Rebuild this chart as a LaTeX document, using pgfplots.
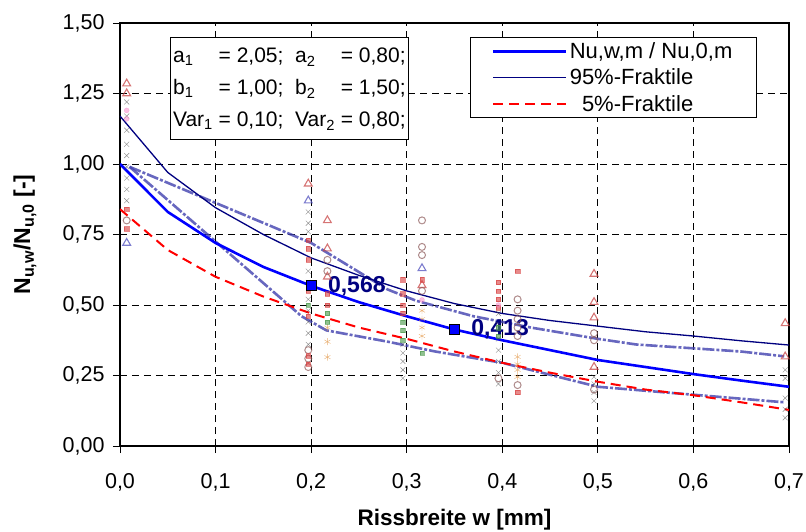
\documentclass[border=0pt]{standalone}
\usepackage{pgfplots}
\pgfplotsset{compat=1.18}
\usepackage{fontspec}
\setmainfont{Liberation Sans}
\definecolor{mblue}{RGB}{0,0,255}
\definecolor{mnavy}{RGB}{0,0,128}
\definecolor{mred}{RGB}{255,0,0}
\definecolor{ddblue}{RGB}{65,65,175}
\definecolor{crossc}{RGB}{60,60,60}
\definecolor{trired}{RGB}{200,70,70}
\definecolor{triblue}{RGB}{80,80,190}
\definecolor{circc}{RGB}{140,90,90}
\definecolor{sqred}{RGB}{215,60,60}
\definecolor{starc}{RGB}{225,150,70}
\definecolor{greenc}{RGB}{70,150,70}
\begin{document}
\begin{tikzpicture}
\useasboundingbox (-120bp,-86bp) rectangle (686bp,446bp);
\begin{axis}[
  at={(0,0)}, anchor=south west,
  width=669bp, height=423bp, scale only axis,
  xmin=0, xmax=0.7, ymin=0, ymax=1.5,
  xtick={0,0.1,...,0.7}, ytick={0,0.25,...,1.5},
  xtick pos=bottom, ytick pos=left,
  tick align=outside, major tick length=7bp,
  every tick/.style={black, line width=0.9bp},
  axis line style={black, line width=1.5bp},
  grid=major,
  major grid style={black, line width=0.8bp, dash pattern=on 7bp off 5bp},
  font=\fontsize{21.5bp}{24bp}\selectfont,
  /pgf/number format/assume math mode=true,
  xticklabel style={yshift=-17bp, /pgf/number format/.cd, use comma, fixed, fixed zerofill, precision=1},
  yticklabel style={xshift=-5bp, /pgf/number format/.cd, use comma, fixed, fixed zerofill, precision=2},
  xlabel={\textbf{Rissbreite w [mm]}},
  ylabel={\textbf{N\textsubscript{u,w}/N\textsubscript{u,0} [-]}},
  every axis x label/.style={at={(axis description cs:0.5,-0.175)}, anchor=center, font=\fontsize{22.5bp}{26bp}\selectfont},
  every axis y label/.style={at={(axis description cs:-0.142,0.5)}, rotate=90, anchor=center, font=\fontsize{23bp}{26bp}\selectfont},
  legend style={at={(axis cs:0.366,1.45)}, anchor=north west, draw=black, line width=0.8bp,
    inner xsep=22bp, inner ysep=3bp, font=\fontsize{22bp}{26bp}\selectfont,
    row sep=5bp, cells={anchor=west}},
  legend image code/.code={\draw[#1] (0bp,0bp) -- (73bp,0bp);},
]
% scatter data (test results)
\addplot[only marks, mark=x, mark size=3.5bp, crossc, opacity=0.6, forget plot] coordinates {
(0.007,1.22)(0.007,1.17)(0.007,1.12)(0.007,1.07)(0.007,1.03)(0.007,0.99)(0.007,0.95)(0.007,0.91)(0.007,0.87)
(0.197,0.83)(0.197,0.79)(0.197,0.76)(0.197,0.62)(0.197,0.58)(0.197,0.52)(0.197,0.48)(0.197,0.44)(0.197,0.40)(0.197,0.36)
(0.296,0.36)(0.296,0.33)(0.296,0.30)(0.296,0.27)(0.296,0.24)
(0.396,0.47)(0.396,0.43)(0.396,0.38)(0.396,0.34)(0.396,0.30)(0.396,0.26)(0.396,0.22)
(0.496,0.245)(0.496,0.22)(0.496,0.19)(0.496,0.16)
(0.696,0.27)(0.696,0.24)(0.696,0.17)(0.696,0.13)(0.696,0.10)};
\addplot[only marks, mark=triangle, mark size=4.5bp, trired, line width=1.1bp, opacity=0.75, forget plot] coordinates {
(0.007,1.285)(0.007,1.25)(0.197,0.93)(0.217,0.80)(0.217,0.70)(0.217,0.60)(0.316,0.57)
(0.496,0.61)(0.496,0.51)(0.496,0.455)(0.496,0.28)(0.696,0.435)(0.696,0.317)};
\addplot[only marks, mark=triangle, mark size=4.5bp, triblue, line width=1.1bp, opacity=0.75, forget plot] coordinates {
(0.007,0.72)(0.197,0.87)(0.316,0.63)};
\addplot[only marks, mark=o, mark size=3.5bp, circc, line width=1bp, opacity=0.7, forget plot] coordinates {
(0.316,0.80)(0.316,0.706)(0.316,0.677)(0.316,0.55)(0.197,0.34)(0.197,0.31)(0.197,0.28)(0.217,0.66)(0.217,0.62)
(0.416,0.52)(0.416,0.48)(0.416,0.45)(0.416,0.42)(0.416,0.39)(0.416,0.216)(0.396,0.24)
(0.496,0.40)(0.496,0.375)(0.496,0.20)(0.007,0.80)};
\addplot[only marks, mark=square*, mark size=2.2bp, sqred, opacity=0.6, forget plot] coordinates {
(0.007,0.84)(0.007,0.77)(0.197,0.73)(0.197,0.70)(0.197,0.66)(0.197,0.55)(0.197,0.46)(0.217,0.54)(0.217,0.50)
(0.296,0.59)(0.296,0.54)(0.296,0.50)(0.296,0.47)(0.316,0.59)
(0.396,0.58)(0.396,0.55)(0.396,0.52)(0.396,0.49)(0.416,0.62)(0.416,0.19)(0.197,0.32)(0.197,0.29)};
\addplot[only marks, mark=asterisk, mark size=3.5bp, starc, opacity=0.75, forget plot] coordinates {
(0.217,0.42)(0.217,0.37)(0.217,0.315)(0.316,0.48)(0.316,0.45)(0.316,0.42)(0.316,0.39)
(0.416,0.316)(0.416,0.29)(0.416,0.27)(0.416,0.245)};
\addplot[only marks, mark=square*, mark size=2.2bp, greenc, opacity=0.6, forget plot] coordinates {
(0.197,0.50)(0.217,0.47)(0.217,0.44)(0.296,0.44)(0.296,0.41)(0.296,0.375)(0.316,0.33)(0.396,0.42)(0.396,0.39)};
\addplot[only marks, mark=*, mark size=2.5bp, magenta!50, opacity=0.5, forget plot] coordinates {
(0.007,1.19)(0.007,1.16)(0.316,0.518)(0.396,0.50)};
% dash-dot test envelopes
\addplot[ddblue, line width=2.6bp, opacity=0.8, dash pattern=on 12bp off 2bp on 3bp off 2bp, forget plot] coordinates {
(0.01,0.99)(0.2,0.72)(0.28,0.555)(0.31,0.515)(0.37,0.46)(0.43,0.42)(0.5,0.38)(0.54,0.36)(0.65,0.335)(0.695,0.318)};
\addplot[ddblue, line width=2.6bp, opacity=0.8, dash pattern=on 12bp off 2bp on 3bp off 2bp, forget plot] coordinates {
(0.01,0.99)(0.19,0.46)(0.216,0.41)(0.28,0.37)(0.33,0.335)(0.4,0.295)(0.5,0.21)(0.695,0.155)};
% fitted curves
\addplot[mblue, line width=2.6bp] coordinates {
(0,1.0)(0.05,0.83)(0.1,0.72)(0.15,0.635)(0.2,0.568)(0.25,0.51)(0.3,0.46)(0.35,0.413)(0.4,0.375)(0.45,0.34)(0.5,0.305)(0.55,0.28)(0.6,0.255)(0.65,0.232)(0.7,0.21)};
\addlegendentry{Nu,w,m / Nu,0,m}
\addplot[mnavy, line width=1.3bp] coordinates {
(0,1.17)(0.05,0.97)(0.1,0.845)(0.15,0.75)(0.2,0.667)(0.25,0.605)(0.3,0.55)(0.35,0.505)(0.4,0.47)(0.45,0.445)(0.5,0.425)(0.55,0.405)(0.6,0.39)(0.65,0.373)(0.7,0.358)};
\addlegendentry{95\%-Fraktile}
\addplot[mred, line width=2bp, dash pattern=on 10bp off 6bp] coordinates {
(0,0.84)(0.05,0.695)(0.1,0.60)(0.15,0.53)(0.2,0.47)(0.25,0.42)(0.3,0.38)(0.35,0.335)(0.4,0.295)(0.45,0.26)(0.5,0.228)(0.55,0.20)(0.6,0.18)(0.65,0.155)(0.7,0.128)};
\addlegendentry{\ \ 5\%-Fraktile}
% marked values
\addplot[only marks, mark=square*, mark size=5bp, mark options={fill=mblue, draw=black, line width=1bp}, forget plot] coordinates {(0.2,0.568)(0.35,0.413)};
\node[anchor=west, text=mnavy, font=\fontsize{23bp}{24bp}\selectfont\bfseries] at (axis cs:0.214,0.568) {0,568};
\node[anchor=west, text=mnavy, font=\fontsize{23bp}{24bp}\selectfont\bfseries] at (axis cs:0.364,0.413) {0,413};
% parameter box
\node[anchor=north west, draw=black, line width=0.8bp, fill=white, inner sep=3bp,
  font=\fontsize{21bp}{32bp}\selectfont] at (axis cs:0.052,1.45) {%
  \begin{tabular}{@{}l@{\ }l@{\ \ }l@{\ }l@{}}
  a\textsubscript{1} & = 2,05; & a\textsubscript{2} & = 0,80;\\
  b\textsubscript{1} & = 1,00; & b\textsubscript{2} & = 1,50;\\
  Var\textsubscript{1} & = 0,10; & Var\textsubscript{2} & = 0,80;
  \end{tabular}};
\end{axis}
\end{tikzpicture}
\end{document}
